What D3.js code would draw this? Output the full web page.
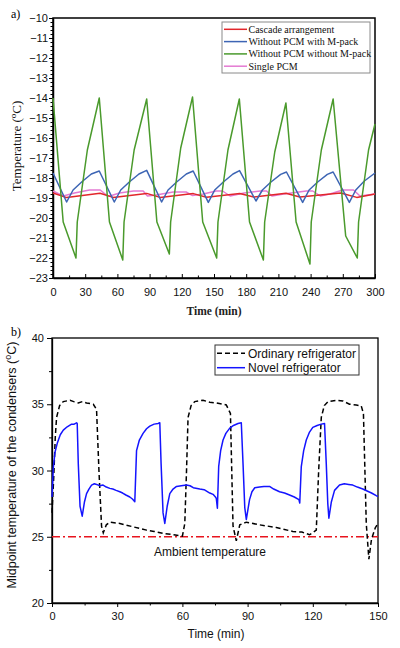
<!DOCTYPE html>
<html>
<head>
<meta charset="utf-8">
<script src="https://cdn.jsdelivr.net/npm/d3@7"></script>
<style>
  body { margin: 0; background: #fff; }
  svg { display: block; }
</style>
</head>
<body>
<div id="parentDiv"></div>
<script>
// DATA - panel a (time in min, temperature in oC)
const timeTicksA = [0, 30, 60, 90, 120, 150, 180, 210, 240, 270, 300];
const tempTicksA = [-23, -22, -21, -20, -19, -18, -17, -16, -15, -14, -13, -12, -11, -10];
const seriesNamesA = ["Cascade arrangement", "Without PCM with M-pack", "Without PCM without M-pack", "Single PCM"];
const seriesColorsA = ["#e2262b", "#3d65b4", "#4a9a2c", "#e47ad2"];

const cascade = [[0,-18.75],[12.7,-18.98],[43.8,-18.76],[56,-18.97],[87.3,-18.77],[99.7,-18.97],[130.7,-18.78],
  [143,-18.96],[174,-18.77],[187,-18.95],[217,-18.76],[230,-18.95],[268,-18.75],[283,-18.97],[300,-18.8]];

const withMpack = [[0,-17.75],[12.7,-19.2],[18.7,-18.6],[26.7,-18.2],[35.7,-17.8],[43.1,-17.65],
  [57.1,-19.2],[63.1,-18.6],[71.1,-18.2],[80.1,-17.8],[87.3,-17.62],
  [101.2,-19.2],[107.2,-18.6],[115.2,-18.2],[124.2,-17.8],[130.6,-17.65],
  [144.7,-19.22],[150.7,-18.6],[158.7,-18.2],[167.7,-17.8],[173.8,-17.63],
  [189.1,-19.15],[195.1,-18.6],[203.1,-18.2],[212.1,-17.82],[217.5,-17.7],
  [232.6,-19.22],[238.6,-18.6],[246.6,-18.2],[255.6,-17.82],[261,-17.7],
  [276.1,-19.22],[282.1,-18.6],[290.1,-18.15],[300,-17.75]];

const withoutMpack = [[0,-14.0],[9.5,-20.2],[21.4,-22.0],[22.6,-20.2],[32,-16.6],[43.1,-14.0],
  [52.6,-20.2],[65,-22.1],[66.2,-20.2],[75.6,-16.6],[87.3,-14.05],
  [96.8,-20.2],[108.4,-21.8],[109.6,-20.2],[119,-16.5],[130,-13.95],
  [139.5,-20.2],[152.5,-22.0],[153.7,-20.2],[163,-16.6],[173.6,-14.05],
  [183.1,-20.2],[196,-22.1],[197.2,-20.2],[206.6,-16.7],[217,-14.25],
  [226.5,-20.2],[239.4,-22.3],[240.6,-20.2],[250,-16.6],[261,-14.05],
  [272.7,-20.9],[283.5,-22.0],[284.7,-20.2],[294,-16.6],[300,-15.3]];

const singlePcm = [[0,-18.65],[9.6,-18.9],[20,-18.75],[34,-18.6],[44,-18.6],[50,-18.87],[53,-18.9],[62,-18.75],
  [75,-18.65],[84,-18.65],[88,-18.9],[96,-18.85],[112,-18.7],[124,-18.7],[130,-18.88],[140,-18.8],
  [152,-18.65],[158,-18.65],[165,-18.9],[178,-18.75],[193,-18.65],[199,-18.65],[204,-18.9],[215,-18.8],
  [236,-18.65],[242,-18.65],[249,-18.9],[258,-18.8],[270,-18.6],[280,-18.6],[286,-18.9],[300,-18.8]];

// DATA - panel b
const timeTicksB = [0, 30, 60, 90, 120, 150];
const tempTicksB = [20, 25, 30, 35, 40];
const seriesNamesB = ["Ordinary refrigerator", "Novel refrigerator"];
const ambientTemp = 25;

const ordinary = [[0,26.8],[0.8,29.5],[1.5,32.5],[2.1,34.0],[3.5,34.9],[5.2,35.2],[8.3,35.3],[10,35.2],[12.1,35.1],
  [14,35.2],[15.9,35.1],[19,35.0],[20.5,34.6],[21.6,30],[22.8,25.8],[23.6,25.3],[25,25.9],[26.6,26.1],
  [31.2,26.0],[37.3,25.75],[43.5,25.5],[47,25.4],[51.1,25.25],[56,25.15],[60,25.05],[61.1,26.0],[61.9,30],
  [62.6,34.0],[64,34.9],[65.7,35.2],[69.5,35.3],[72.6,35.15],[75.6,35.1],[80.2,34.95],[82.1,34.3],[83.3,25.8],
  [84.8,24.7],[86.4,25.9],[89.4,26.1],[95.5,25.9],[103.2,25.7],[110.8,25.4],[115,25.35],[118.5,25.15],
  [121.6,25.5],[122.7,30],[123.9,34.0],[125.3,34.9],[127,35.2],[130.8,35.3],[133.8,35.25],[136.9,35.0],
  [140,34.95],[142.3,34.87],[143.3,34.3],[144.6,26],[145.8,23.3],[147,24.8],[148.8,25.7],[150,26.0]];

const novel = [[0,28.0],[0.6,30.2],[1.4,31.4],[2.5,32.1],[3.8,32.7],[5.2,33.05],[7,33.3],[9,33.5],[10.2,33.5],
  [11.3,33.6],[11.6,33.55],[12.1,30.5],[12.9,27.3],[13.9,26.55],[14.9,27.6],[15.9,28.25],[17,28.6],[18.2,28.9],
  [19.5,29.0],[20.5,28.95],[22,28.85],[23.5,28.9],[25,28.75],[26.6,28.65],[28,28.6],[29.5,28.5],[31.2,28.4],
  [32.5,28.3],[34,28.15],[35.8,28.0],[37,27.85],[38.1,27.65],[38.9,31.5],[40.2,32.3],[41.9,32.8],[43.5,33.15],
  [45,33.35],[47,33.5],[48.8,33.55],[49.6,33.6],[50.2,30.5],[51.1,26.8],[51.9,26.0],[53,27.3],[54.2,28.25],
  [55.7,28.6],[57.3,28.8],[59.5,28.85],[61.9,28.9],[63.5,28.85],[65,28.7],[68,28.6],[70,28.55],[72.6,28.3],
  [74.1,28.2],[75.2,28.0],[75.6,27.9],[76.1,27.15],[76.7,30.3],[77.6,31.5],[78.7,32.3],[80,32.8],[81.8,33.2],
  [83.5,33.4],[85.6,33.55],[87.1,33.6],[87.9,30.5],[88.7,27.2],[89.4,26.3],[90.9,27.8],[92,28.4],[93.3,28.7],
  [95.5,28.75],[97.5,28.8],[100.1,28.8],[102,28.6],[104.7,28.4],[107,28.3],[109.3,28.15],[111.5,28.0],
  [113.6,27.8],[114,27.55],[114.7,30.3],[115.8,31.5],[117,32.3],[118.5,32.9],[120,33.25],[122,33.4],
  [123.9,33.5],[125.4,33.55],[126.2,30.5],[126.9,27.5],[127.4,26.4],[128.5,27.6],[130,28.5],[132.3,28.9],
  [134.5,29.0],[136.5,28.95],[138.4,28.9],[140.5,28.75],[143,28.6],[145,28.45],[147,28.3],[149.2,28.1],[150,28.05]];

const sans = "'Liberation Sans', Arial, sans-serif";
const serif = "'Liberation Serif', 'Times New Roman', serif";

const width = 400;
const height = 648;

const svg = d3.select('#parentDiv').append('svg')
  .attr('width', width)
  .attr('height', height);

svg.append('rect').attr('width', width).attr('height', height).attr('fill', '#fff');

// PANEL A
const xA = d3.scaleLinear().domain([0, 300]).range([53, 375]);
const yA = d3.scaleLinear().domain([-23, -10]).range([278, 18]);

// frame
svg.append('rect')
  .attr('x', xA(0)).attr('y', yA(-10))
  .attr('width', xA(300) - xA(0)).attr('height', yA(-23) - yA(-10))
  .attr('fill', 'none').attr('stroke', '#000').attr('stroke-width', 1.5);

// minor ticks
svg.append('g')
  .attr('transform', `translate(${xA(0)},0)`)
  .call(d3.axisLeft(yA).tickValues(d3.range(-23, -10, 0.2)).tickSize(2.5).tickFormat(''))
  .call(g => g.select('.domain').remove());
svg.append('g')
  .attr('transform', `translate(0,${yA(-23)})`)
  .call(d3.axisBottom(xA).tickValues(d3.range(15, 300, 30)).tickSize(-2.5).tickFormat(''))
  .call(g => g.select('.domain').remove());

const yAxisA = svg.append('g')
  .attr('transform', `translate(${xA(0)},0)`)
  .call(d3.axisLeft(yA).tickValues(tempTicksA).tickSize(4).tickPadding(1).tickSizeOuter(0));
const xAxisA = svg.append('g')
  .attr('transform', `translate(0,${yA(-23)})`)
  .call(d3.axisBottom(xA).tickValues(timeTicksA).tickSize(-4).tickPadding(10).tickSizeOuter(0));

[yAxisA, xAxisA].forEach(ax => {
  ax.select('.domain').attr('stroke-width', 1.5);
  ax.selectAll('text').attr('font-family', sans).attr('font-size', '11px').attr('fill', '#111');
});

// draw order: pink under red, green on top
const lineA = d3.line().x(d => xA(d[0])).y(d => yA(d[1]));
const drawOrder = [3, 0, 1, 2];
const seriesA = [cascade, withMpack, withoutMpack, singlePcm];
drawOrder.forEach(i => {
  svg.append('path')
    .datum(seriesA[i])
    .attr('d', lineA)
    .attr('fill', 'none')
    .attr('stroke', seriesColorsA[i])
    .attr('stroke-width', 1.5)
    .attr('stroke-linejoin', 'round');
});

// legend a
const legendA = svg.append('g');
legendA.append('rect')
  .attr('x', 222).attr('y', 22).attr('width', 148).attr('height', 51)
  .attr('fill', '#fff').attr('stroke', '#8a8a8a').attr('stroke-width', 1);
seriesNamesA.forEach((name, i) => {
  const ly = 29.3 + i * 12.3;
  legendA.append('line')
    .attr('x1', 224).attr('x2', 247).attr('y1', ly).attr('y2', ly)
    .attr('stroke', seriesColorsA[i]).attr('stroke-width', 1.5);
  legendA.append('text')
    .attr('x', 248.5).attr('y', ly + 3.4)
    .attr('font-family', serif).attr('font-size', '10px').attr('fill', '#111')
    .text(name);
});

// labels a
svg.append('text').attr('x', 11).attr('y', 18)
  .attr('font-family', serif).attr('font-size', '12px').text('a)');

const yLabelA = svg.append('text')
  .attr('transform', 'translate(21,146) rotate(-90)')
  .attr('text-anchor', 'middle')
  .attr('font-family', serif).attr('font-size', '13px').attr('fill', '#111');
yLabelA.append('tspan').text('Temperature (');
yLabelA.append('tspan').attr('font-size', '9px').attr('dy', '-5').text('o');
yLabelA.append('tspan').attr('dy', '5').text('C)');

svg.append('text').attr('x', 214).attr('y', 315)
  .attr('text-anchor', 'middle')
  .attr('font-family', serif).attr('font-size', '11.5px').attr('font-weight', 'bold').attr('fill', '#222')
  .text('Time (min)');

// PANEL B
const xB = d3.scaleLinear().domain([0, 150]).range([52, 378]);
const yB = d3.scaleLinear().domain([20, 40]).range([603, 338]);

svg.append('rect')
  .attr('x', xB(0)).attr('y', yB(40))
  .attr('width', xB(150) - xB(0)).attr('height', yB(20) - yB(40))
  .attr('fill', 'none').attr('stroke', '#000').attr('stroke-width', 1.3);

svg.append('g')
  .attr('transform', `translate(${xB(0)},0)`)
  .call(d3.axisLeft(yB).tickValues(d3.range(22.5, 40, 5)).tickSize(3).tickFormat(''))
  .call(g => g.select('.domain').remove());
svg.append('g')
  .attr('transform', `translate(0,${yB(20)})`)
  .call(d3.axisBottom(xB).tickValues(d3.range(15, 150, 30)).tickSize(2.5).tickFormat(''))
  .call(g => g.select('.domain').remove());

const yAxisB = svg.append('g')
  .attr('transform', `translate(${xB(0)},0)`)
  .call(d3.axisLeft(yB).tickValues(tempTicksB).tickSize(5).tickPadding(3).tickSizeOuter(0));
const xAxisB = svg.append('g')
  .attr('transform', `translate(0,${yB(20)})`)
  .call(d3.axisBottom(xB).tickValues(timeTicksB).tickSize(4).tickPadding(5).tickSizeOuter(0));

[yAxisB, xAxisB].forEach(ax => {
  ax.select('.domain').attr('stroke-width', 1.3);
  ax.selectAll('text').attr('font-family', sans).attr('font-size', '11px').attr('fill', '#111');
});

// ambient line
svg.append('line')
  .attr('x1', xB(0)).attr('x2', xB(150))
  .attr('y1', yB(ambientTemp)).attr('y2', yB(ambientTemp))
  .attr('stroke', '#e8141e').attr('stroke-width', 1.5)
  .attr('stroke-dasharray', '8,3,2,3');

const lineB = d3.line().x(d => xB(d[0])).y(d => yB(d[1]));
svg.append('path')
  .datum(ordinary)
  .attr('d', lineB)
  .attr('fill', 'none').attr('stroke', '#000').attr('stroke-width', 1.5)
  .attr('stroke-dasharray', '5,3');
svg.append('path')
  .datum(novel)
  .attr('d', lineB)
  .attr('fill', 'none').attr('stroke', '#1414ff').attr('stroke-width', 1.5)
  .attr('stroke-linejoin', 'round');

svg.append('text').attr('x', 210).attr('y', 556)
  .attr('text-anchor', 'middle')
  .attr('font-family', sans).attr('font-size', '12px').attr('fill', '#111')
  .text('Ambient temperature');

// legend b
const legendB = svg.append('g');
legendB.append('rect')
  .attr('x', 215).attr('y', 345).attr('width', 144).attr('height', 30)
  .attr('fill', '#fff').attr('stroke', '#333').attr('stroke-width', 1);
seriesNamesB.forEach((name, i) => {
  const ly = 353.3 + i * 14.4;
  legendB.append('line')
    .attr('x1', 217).attr('x2', 245).attr('y1', ly).attr('y2', ly)
    .attr('stroke', i === 0 ? '#000' : '#1414ff').attr('stroke-width', 1.5)
    .attr('stroke-dasharray', i === 0 ? '5,3' : null);
  legendB.append('text')
    .attr('x', 248).attr('y', ly + 4.2)
    .attr('font-family', sans).attr('font-size', '12px').attr('fill', '#111')
    .text(name);
});

// labels b
svg.append('text').attr('x', 11).attr('y', 336)
  .attr('font-family', serif).attr('font-size', '12px').text('b)');

const yLabelB = svg.append('text')
  .attr('transform', 'translate(16,465) rotate(-90)')
  .attr('text-anchor', 'middle')
  .attr('font-family', sans).attr('font-size', '12.5px').attr('fill', '#111');
yLabelB.append('tspan').text('Midpoint temperature of the condensers (');
yLabelB.append('tspan').attr('font-size', '9px').attr('dy', '-5').text('o');
yLabelB.append('tspan').attr('dy', '5').text('C)');

svg.append('text').attr('x', 216).attr('y', 638)
  .attr('text-anchor', 'middle')
  .attr('font-family', sans).attr('font-size', '12px').attr('fill', '#111')
  .text('Time (min)');
</script>
</body>
</html>
